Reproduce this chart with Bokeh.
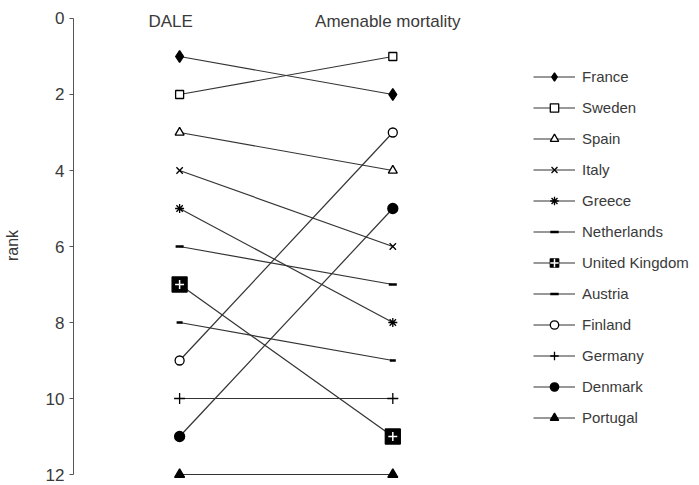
from bokeh.plotting import figure
from bokeh.models import Range1d, FixedTicker, Legend, LegendItem, ColumnDataSource
from bokeh.core.properties import value
from bokeh.embed import file_html
from bokeh.resources import INLINE

# ---- data ----
columns = ["DALE", "Amenable mortality"]
countries = ["France", "Sweden", "Spain", "Italy", "Greece", "Netherlands",
             "United Kingdom", "Austria", "Finland", "Germany", "Denmark", "Portugal"]
dale_rank = [1, 2, 3, 4, 5, 6, 7, 8, 9, 10, 11, 12]
amenable_rank = [2, 1, 4, 6, 8, 7, 11, 9, 3, 10, 5, 12]
y_ticks = [0, 2, 4, 6, 8, 10, 12]

# ---- styles ----
FONT = "Liberation Sans"
TXT = "#3a3a3a"
LINE = "#333333"
styles = {
    "France": dict(marker="diamond", size=12, fill_color="black", line_color="black"),
    "Sweden": dict(marker="square", size=8, fill_color="white", line_color="black"),
    "Spain": dict(marker="triangle", size=9, fill_color="white", line_color="black"),
    "Italy": dict(marker="x", size=9, fill_color="black", line_color="black"),
    "Greece": dict(marker="asterisk", size=9, fill_color="black", line_color="black"),
    "Netherlands": dict(marker="dash", size=8, fill_color="black", line_color="black"),
    "United Kingdom": dict(marker="square", size=15, fill_color="black", line_color="black"),
    "Austria": dict(marker="dash", size=6, fill_color="black", line_color="black"),
    "Finland": dict(marker="circle", size=9, fill_color="white", line_color="black"),
    "Germany": dict(marker="cross", size=11, fill_color="black", line_color="black"),
    "Denmark": dict(marker="circle", size=10, fill_color="black", line_color="black"),
    "Portugal": dict(marker="triangle", size=10, fill_color="black", line_color="black"),
}

x_pos = [i + 1 for i in range(len(columns))]

p = figure(width=691, height=485, output_backend="svg", toolbar_location=None,
           x_range=Range1d(0.5023, 3.401), y_range=Range1d(12.21, -0.263),
           min_border_left=62, min_border_right=0, min_border_top=8, min_border_bottom=3)
p.outline_line_color = None
p.xgrid.visible = False
p.ygrid.visible = False
p.xaxis.visible = False
p.background_fill_color = "white"
p.border_fill_color = "white"

yax = p.yaxis[0]
yax.ticker = FixedTicker(ticks=y_ticks)
yax.bounds = (0, 12)
yax.axis_label = "rank"
yax.axis_label_text_font = FONT
yax.axis_label_text_font_size = "16px"
yax.axis_label_text_font_style = "normal"
yax.axis_label_text_color = TXT
yax.axis_label_standoff = 22
yax.major_label_text_font = FONT
yax.major_label_text_font_size = "17px"
yax.major_label_text_color = TXT
yax.major_label_standoff = 5
yax.major_tick_out = 4
yax.major_tick_in = 0
yax.minor_tick_line_color = None
yax.axis_line_color = "#555555"
yax.major_tick_line_color = "#555555"

# headers
hdr = ColumnDataSource(dict(x=x_pos, y=[0, 0], t=columns, xo=[-9, -5]))
p.text(x="x", y="y", text="t", x_offset="xo", y_offset=3, source=hdr,
       text_align="center", text_baseline="middle",
       text_font=value(FONT), text_font_size="17px", text_color=TXT)

items = []
for i, c in enumerate(countries):
    st = styles[c]
    src = ColumnDataSource(dict(x=x_pos, y=[dale_rank[i], amenable_rank[i]]))
    ln = p.line("x", "y", source=src, line_color=LINE, line_width=1.2)
    lw = 2.5 if st["marker"] == "dash" else 1.3
    sc = p.scatter("x", "y", source=src, marker=st["marker"], size=st["size"],
                   fill_color=st["fill_color"], line_color=st["line_color"], line_width=lw)
    rends = [ln, sc]
    if c == "United Kingdom":
        cr = p.scatter("x", "y", source=src, marker="cross", size=9,
                       line_color="white", line_width=1.5)
        rends.append(cr)
    items.append(LegendItem(label=c, renderers=rends))

legend = Legend(items=items, location=(460, 54), orientation="vertical",
                glyph_width=42, glyph_height=21, label_height=21, spacing=10,
                label_standoff=7, padding=0, margin=0,
                border_line_color=None, background_fill_alpha=0,
                label_text_font=FONT, label_text_font_size="15px",
                label_text_color=TXT)
p.add_layout(legend)

open("out.html", "w").write(file_html(p, INLINE))
